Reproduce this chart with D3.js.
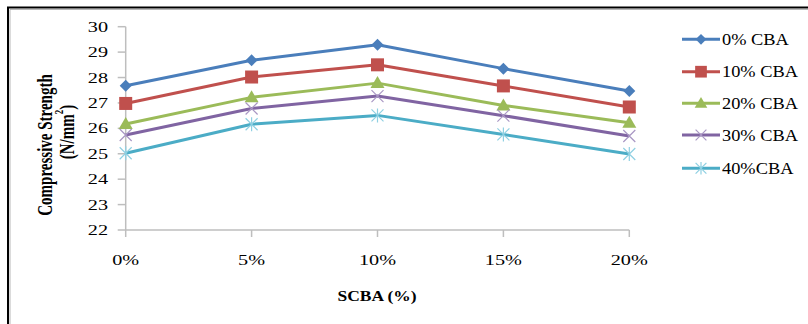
<!DOCTYPE html>
<html><head><meta charset="utf-8">
<script src="https://cdn.jsdelivr.net/npm/d3@7"></script>
<style>body{margin:0;background:#fff}svg{display:block}text{font-family:"Liberation Serif","Times New Roman",serif;fill:#000}</style>
</head><body><div id="c"></div>
<script>
const categories = ["0%","5%","10%","15%","20%"];
const seriesNames = ["0% CBA","10% CBA","20% CBA","30% CBA","40%CBA"];
const cba0  = [27.68, 28.68, 29.29, 28.35, 27.47];
const cba10 = [26.98, 28.02, 28.50, 27.67, 26.84];
const cba20 = [26.17, 27.22, 27.78, 26.90, 26.22];
const cba30 = [25.74, 26.78, 27.27, 26.50, 25.70];
const cba40 = [25.02, 26.16, 26.51, 25.76, 24.99];
const yTicks = [22,23,24,25,26,27,28,29,30];
const colors = ["#4A7EBB","#C0504D","#9BBB59","#8064A2","#4BACC6"];
const symbolsK = ["diamond","square","triangle","x","asterisk"];
const seriesValues = [cba0,cba10,cba20,cba30,cba40];

const W=808,H=324;
const svg=d3.select("#c").append("svg").attr("width",W).attr("height",H);
// frame
svg.append("path").attr("d",`M8,${H+5}V7.5H${W+5}`).attr("fill","none").attr("stroke","#000").attr("stroke-width",2);
svg.append("path").attr("d",`M10,${H+5}V9.5H${W+5}`).attr("fill","none").attr("stroke","#888").attr("stroke-width",0.6);

const x0=125.7, x1=629.3, yTop=26.7, yBot=230;
const x=d3.scalePoint().domain(categories).range([x0,x1]);
const y=d3.scaleLinear().domain([22,30]).range([yBot,yTop]);

function stext(g,tx,ty,str,opts={}){
  const sx=opts.sx||1.3;
  const t=g.append("g").attr("transform",`translate(${tx},${ty}) scale(${sx},1)${opts.rot?" rotate(-90)":""}`)
   .append("text").attr("text-anchor",opts.anchor||"middle").attr("font-size",opts.size||14)
   .attr("font-weight",opts.bold?"bold":"normal").attr("dominant-baseline","central");
  return t.text(str);
}
const ag=svg.append("g");
// y axis
ag.append("line").attr("x1",x0).attr("x2",x0).attr("y1",yTop).attr("y2",yBot).attr("stroke","#BEBEBE").attr("stroke-width",1.5);
yTicks.forEach(v=>{
  ag.append("line").attr("x1",x0-8).attr("x2",x0).attr("y1",y(v)).attr("y2",y(v)).attr("stroke","#BEBEBE").attr("stroke-width",1.5);
  stext(ag,108,y(v),String(v),{anchor:"end",size:15,sx:1.35});
});
// x axis
ag.append("line").attr("x1",x0).attr("x2",x1).attr("y1",yBot).attr("y2",yBot).attr("stroke","#BEBEBE").attr("stroke-width",1.5);
categories.forEach(c=>{
  ag.append("line").attr("x1",x(c)).attr("x2",x(c)).attr("y1",yBot).attr("y2",yBot+7).attr("stroke","#BEBEBE").attr("stroke-width",1.5);
  stext(ag,x(c),260,c,{size:15,sx:1.35});
});
stext(ag,377,296,"SCBA (%)",{size:14,bold:true,sx:1.25});
// y title
stext(ag,44,145,"Compressive Strength",{size:15,bold:true,rot:true,sx:1.45});
const yt=stext(ag,66,132,"",{size:15,bold:true,rot:true,sx:1.45});
yt.append("tspan").text("(N/mm");
yt.append("tspan").attr("font-size",9).attr("dy",-5).text("2");
yt.append("tspan").attr("dy",5).text(")");

function marker(g,type,cx,cy,col,s=1){
  if(type==="diamond") g.append("path").attr("d",`M${cx},${cy-6*s}L${cx+6*s},${cy}L${cx},${cy+6*s}L${cx-6*s},${cy}Z`).attr("fill",col);
  else if(type==="square") g.append("rect").attr("x",cx-6.5*s).attr("y",cy-6.5*s).attr("width",13*s).attr("height",13*s).attr("fill",col);
  else if(type==="triangle") g.append("path").attr("d",`M${cx},${cy-7*s}L${cx+7*s},${cy+5*s}L${cx-7*s},${cy+5*s}Z`).attr("fill",col);
  else if(type==="x") g.append("path").attr("d",`M${cx-6*s},${cy-6*s}L${cx+6*s},${cy+6*s}M${cx-6*s},${cy+6*s}L${cx+6*s},${cy-6*s}`).attr("stroke","#A997C4").attr("stroke-width",1.2);
  else if(type==="asterisk") g.append("path").attr("d",`M${cx-6*s},${cy-6*s}L${cx+6*s},${cy+6*s}M${cx-6*s},${cy+6*s}L${cx+6*s},${cy-6*s}M${cx},${cy-7*s}V${cy+7*s}`).attr("stroke","#8FD0E2").attr("stroke-width",1.2);
}
const line=d3.line().x((d,i)=>x(categories[i])).y(d=>y(d));
seriesValues.forEach((vals,k)=>{
  const g=svg.append("g");
  g.append("path").attr("d",line(vals)).attr("fill","none").attr("stroke",colors[k]).attr("stroke-width",3).attr("stroke-linejoin","round");
  vals.forEach((v,i)=>marker(g,symbolsK[k],x(categories[i]),y(v),colors[k]));
});
// legend
const ly=[39.3,71.7,103.3,135,168.3];
seriesNames.forEach((n,k)=>{
  const g=svg.append("g");
  g.append("line").attr("x1",682).attr("x2",720).attr("y1",ly[k]).attr("y2",ly[k]).attr("stroke",colors[k]).attr("stroke-width",3);
  marker(g,symbolsK[k],701,ly[k],colors[k],0.9);
  stext(g,722,ly[k],n,{anchor:"start",size:17,sx:1.08});
});
</script></body></html>
